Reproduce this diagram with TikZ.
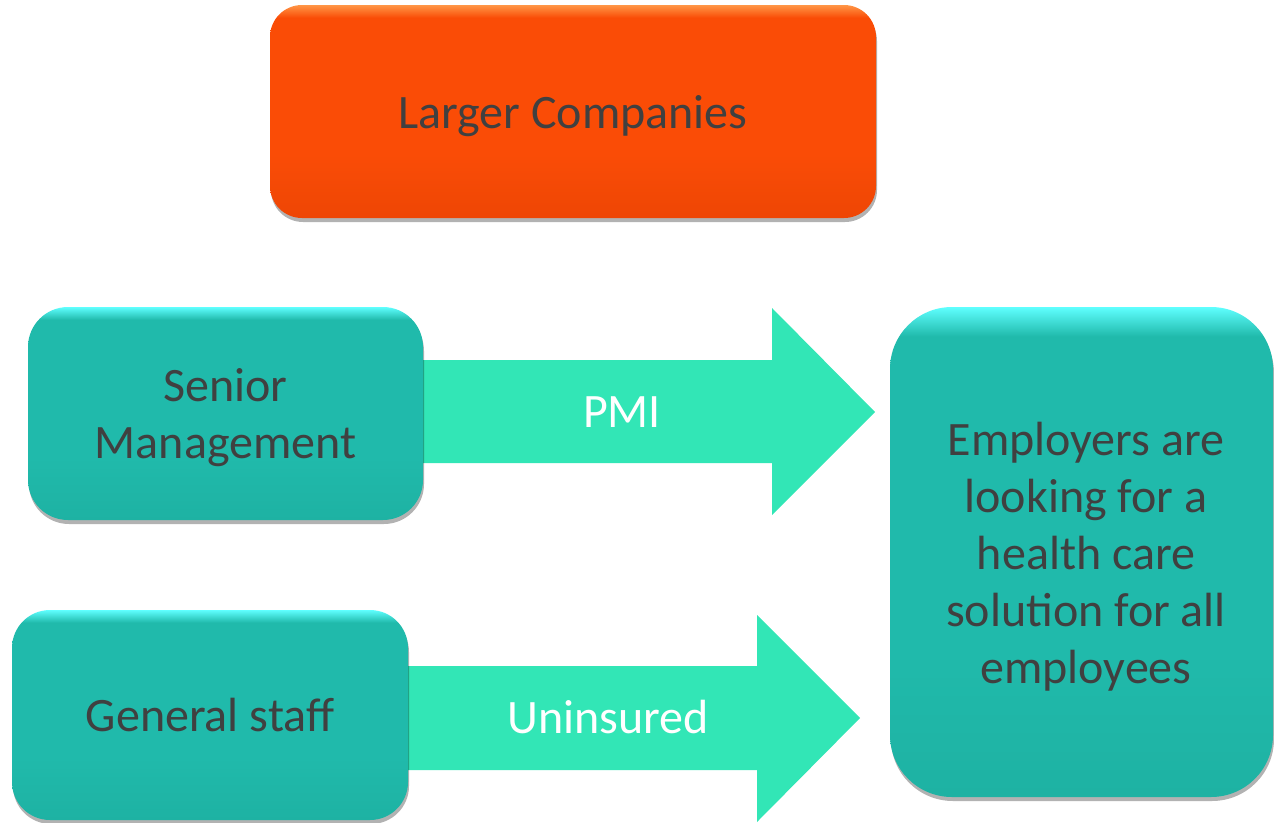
\documentclass[tikz,border=0pt]{standalone}
\usepackage{fontspec}
\setmainfont{Carlito}
\usetikzlibrary{shadows}
\definecolor{orbase}{RGB}{250,76,6}
\definecolor{orlight}{RGB}{255,150,70}
\definecolor{ordark}{RGB}{238,70,5}
\definecolor{tealbase}{RGB}{32,186,171}
\definecolor{teallight}{RGB}{95,255,255}
\definecolor{tealdark}{RGB}{30,178,163}
\definecolor{arrowcol}{RGB}{50,230,182}
\definecolor{txt}{RGB}{64,64,64}
\pgfdeclareverticalshading{orshade}{100bp}{color(0bp)=(ordark); color(25bp)=(ordark); color(40bp)=(orbase); color(72bp)=(orbase); color(75bp)=(orlight); color(100bp)=(orlight)}
\pgfdeclareverticalshading{tealshade}{100bp}{color(0bp)=(tealdark); color(25bp)=(tealdark); color(40bp)=(tealbase); color(72bp)=(tealbase); color(75bp)=(teallight); color(100bp)=(teallight)}
\tikzset{
  boxbase/.style={rectangle, inner sep=0pt,
    drop shadow={shadow xshift=1pt, shadow yshift=-4pt, opacity=0.3, fill=black}},
  orbox/.style={boxbase, shading=orshade},
  tealbox/.style={boxbase, shading=tealshade},
  boxtext/.style={inner sep=0pt, align=center, text=txt, font=\fontsize{48}{57}\selectfont},
  blockarrow/.style={fill=arrowcol, draw=none},
  arrowlabel/.style={text=white, font=\fontsize{48}{57}\selectfont, inner sep=0pt}
}
\begin{document}
\begin{tikzpicture}[x=1pt,y=-1pt]
\useasboundingbox (0,0) rectangle (1274,822);
% block arrows
\draw[blockarrow] (420,360) -- (772,360) -- (772,308) -- (875,412) -- (772,515) -- (772,463) -- (420,463) -- cycle;
\draw[blockarrow] (405,666) -- (757,666) -- (757,615) -- (860,718) -- (757,822) -- (757,770) -- (405,770) -- cycle;
\node[arrowlabel] (pmi) at (622,412) {PMI};
\node[arrowlabel] (unins) at (608,717) {Uninsured};
% boxes
\node[orbox, rounded corners=32pt, minimum width=606pt, minimum height=213pt] (top) at (573,111.5) {};
\node[tealbox, rounded corners=40pt, minimum width=395pt, minimum height=213pt] (sm) at (225.5,413.5) {};
\node[tealbox, rounded corners=38pt, minimum width=396pt, minimum height=210pt] (gs) at (210,715) {};
\node[tealbox, rounded corners=62pt, minimum width=383pt, minimum height=490pt] (emp) at (1081.5,552) {};
% box texts
\node[boxtext] (topt) at (573,116) {Larger Companies};
\node[boxtext] (smt) at (225.5,418) {Senior\\Management};
\node[boxtext] (gst) at (210,715) {General staff};
\node[boxtext] (empt) at (1086,557) {Employers are\\looking for a\\health care\\solution for all\\employees};
\end{tikzpicture}
\end{document}
